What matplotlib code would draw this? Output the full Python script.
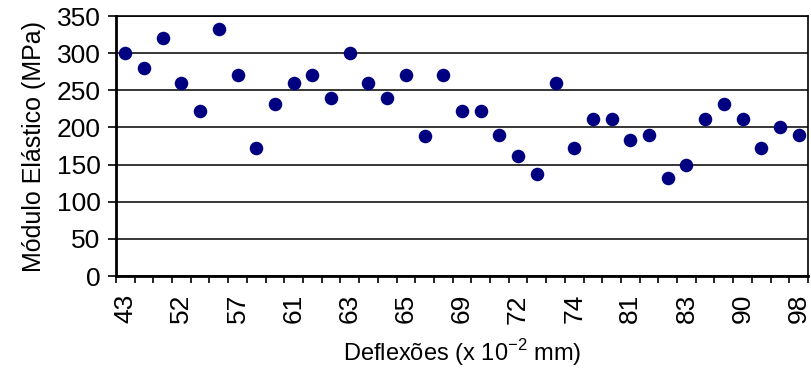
import numpy as np
import matplotlib.pyplot as plt
from matplotlib.ticker import FixedLocator, NullFormatter

plt.rcParams['font.family'] = ['Liberation Sans', 'DejaVu Sans']
plt.rcParams['mathtext.fontset'] = 'custom'
plt.rcParams['mathtext.rm'] = 'Liberation Sans'

# Módulo elástico (MPa) para cada deflexão, na ordem do eixo
modulo = [300, 280, 320, 260, 222, 333, 270, 172, 231, 260,
          270, 239, 300, 260, 239, 270, 188, 270, 222, 222,
          190, 161, 137, 260, 172, 212, 212, 183, 190, 132,
          150, 212, 231, 212, 172, 200, 190]

# rótulos visíveis (a cada 3 categorias)
rotulos = ['43', '52', '57', '61', '63', '65', '69', '72', '74', '81', '83', '90', '98']

n = len(modulo)
x = np.arange(n)

fig = plt.figure(figsize=(8.11, 3.69), dpi=100)
ax = fig.add_axes([0.143, 0.252, 0.8533, 0.7046])

ax.scatter(x, modulo, s=95, color='#000080', zorder=3, linewidths=0)

ax.set_xlim(-0.5, n - 0.5)
ax.set_ylim(0, 350)
ax.set_yticks(np.arange(0, 351, 50))
ax.yaxis.grid(True, color='black', linewidth=1.1)
ax.set_axisbelow(True)

ax.set_xticks(x[::3])
ax.set_xticklabels(rotulos, rotation=90)
ax.xaxis.set_minor_locator(FixedLocator(np.arange(-0.5, n, 1)))
ax.xaxis.set_minor_formatter(NullFormatter())
ax.tick_params(axis='x', which='major', length=0, labelsize=19, pad=13)
ax.tick_params(axis='x', which='minor', length=5, width=1.2, direction='out')
ax.tick_params(axis='y', length=6, width=1.2, labelsize=19, pad=5)

for s in ['left', 'bottom']:
    ax.spines[s].set_linewidth(2)
for s in ['top', 'right']:
    ax.spines[s].set_linewidth(1.2)

ax.set_ylabel('Módulo Elástico (MPa)', fontsize=18, labelpad=8)
ax.set_xlabel('Deflexões (x 10$^{\\mathregular{-2}}$ mm)', fontsize=17, labelpad=10)

fig.savefig('out.png', dpi=100)
